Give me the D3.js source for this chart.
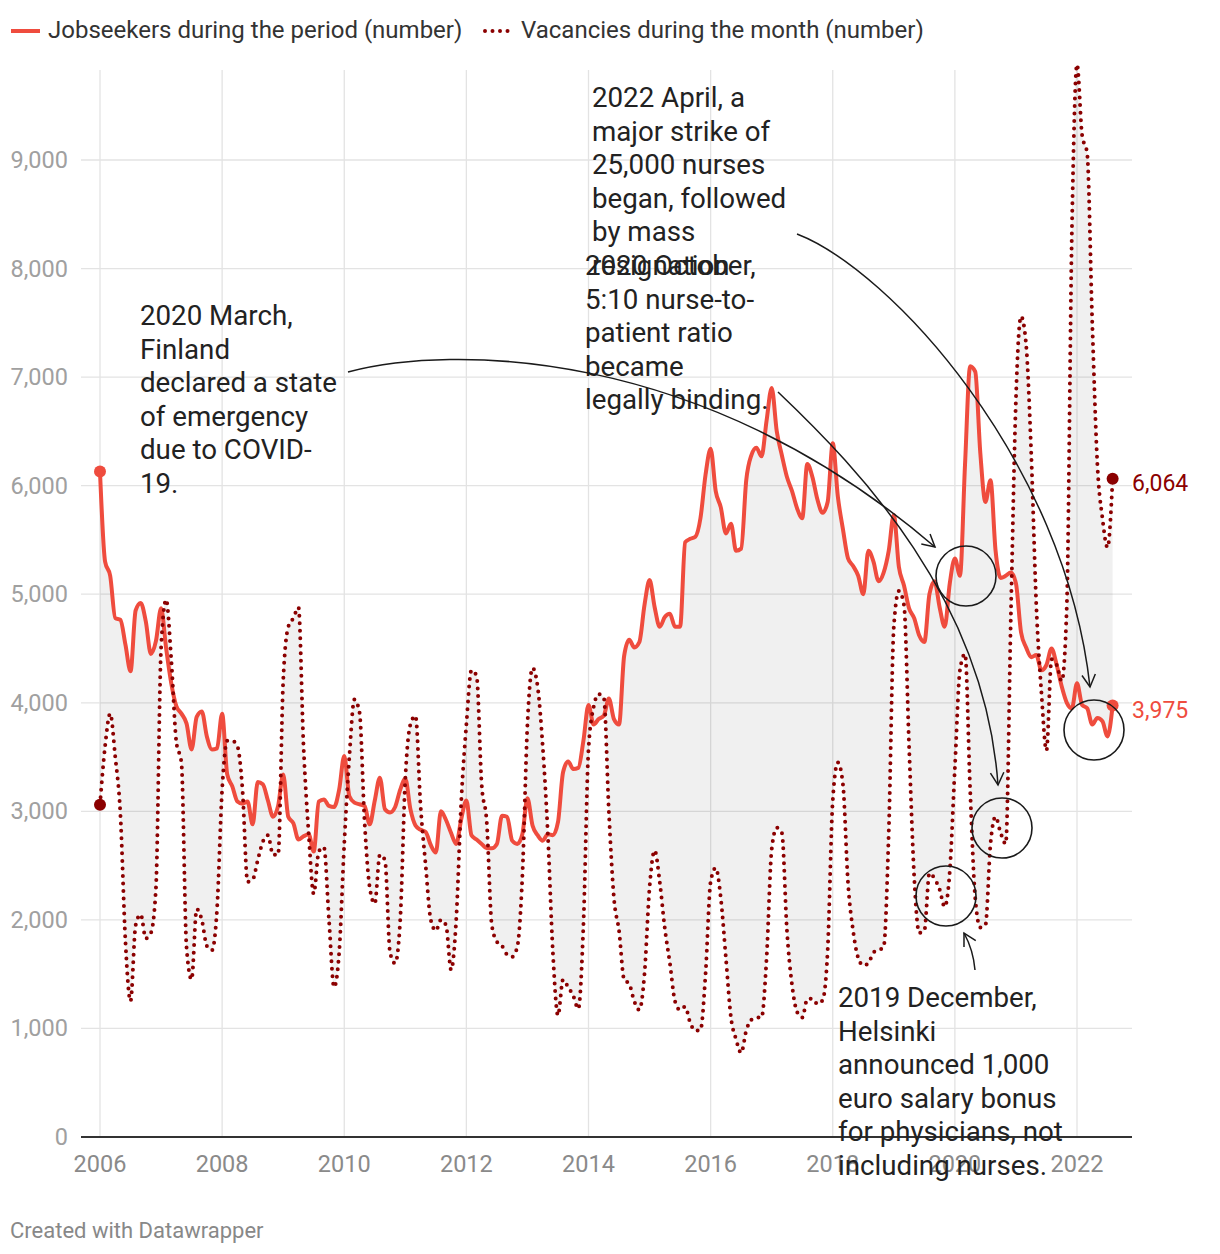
<!DOCTYPE html>
<html>
<head>
<meta charset="utf-8">
<script src="https://cdn.jsdelivr.net/npm/d3@7/dist/d3.min.js"></script>
<style>
  html, body { margin: 0; padding: 0; background: #fff; }
  svg { display: block; font-family: Roboto, "Noto Sans", sans-serif; }
</style>
</head>
<body>
<svg id="chart" width="1220" height="1254"></svg>
<script>
// ---------- DATA (monthly, Jan 2006 -> Aug 2022) ----------
const startYear = 2006;
const seriesNames = ["Jobseekers during the period (number)", "Vacancies during the month (number)"];
const jobseekers = [
  6130,5300,5170,4780,4765,4535,4290,4850,4920,4750,4450,4570,
  4870,4500,4180,3970,3900,3810,3570,3870,3920,3690,3570,3580,
  3900,3340,3230,3090,3070,3090,2880,3270,3250,3100,2950,3050,
  3340,2950,2890,2740,2770,2790,2630,3090,3110,3050,3040,3200,
  3510,3140,3080,3065,3050,2880,3100,3310,3020,2990,3040,3200,
  3300,3020,2870,2830,2810,2690,2620,3000,2920,2800,2700,2930,
  3100,2780,2740,2700,2660,2660,2700,2960,2950,2730,2700,2790,
  3120,2870,2780,2730,2790,2780,2900,3360,3460,3390,3400,3650,
  3980,3800,3850,3880,4040,3850,3800,4430,4580,4510,4560,4900,
  5130,4880,4700,4790,4820,4700,4700,5480,5510,5530,5700,6100,
  6340,5950,5800,5560,5650,5400,5420,6050,6280,6350,6270,6600,
  6900,6500,6280,6080,5950,5790,5700,6200,6080,5870,5750,5850,
  6390,5900,5600,5330,5260,5170,5000,5400,5300,5120,5200,5400,
  5730,5250,5080,4870,4780,4620,4560,5000,5120,4880,4700,5100,
  5330,5170,6200,7100,7050,6300,5850,6050,5400,5150,5170,5200,
  5100,4650,4510,4420,4440,4300,4350,4500,4350,4150,4000,3950,
  4180,3980,3950,3800,3860,3830,3690,3975
];
const vacancies = [
  3060,3600,3900,3500,2980,1800,1250,1950,2050,1830,1880,2300,
  4500,4950,4400,3640,3450,1750,1450,2100,2000,1760,1720,2100,
  3200,3650,3650,3600,3200,2350,2370,2550,2720,2780,2600,2600,
  4200,4700,4780,4880,3600,2800,2240,2630,2670,2000,1380,1700,
  2700,3500,4030,3910,2900,2300,2150,2600,2550,1700,1600,2000,
  3300,3800,3880,3050,2500,2000,1900,2000,1950,1540,2000,3100,
  3800,4300,4250,3250,2900,1950,1800,1760,1680,1660,1750,2400,
  3800,4320,4150,3600,2800,1700,1120,1450,1380,1300,1180,1950,
  3570,3960,4080,4050,3000,2200,1900,1450,1410,1250,1170,1500,
  2300,2640,2350,1920,1600,1250,1170,1200,1050,980,985,1500,
  2350,2480,2200,1650,1100,900,775,980,1080,1100,1100,1650,
  2650,2850,2800,1900,1400,1150,1100,1270,1275,1225,1260,1720,
  3100,3450,3250,2340,1900,1650,1580,1600,1700,1720,1750,2800,
  4700,5030,4900,3600,2400,1880,1900,2430,2380,2280,2120,2450,
  3400,4300,4450,3200,2200,1930,1950,2700,2950,2800,2700,4800,
  6800,7560,7300,6300,4900,4100,3560,4400,4350,4200,4900,8360,
  9880,9230,9060,7500,6200,5700,5430,6064
];
const yTicks = [0,1000,2000,3000,4000,5000,6000,7000,8000,9000];
const xTicks = [2006,2008,2010,2012,2014,2016,2018,2020,2022];
const endLabels = ["6,064", "3,975"];
const annotationTexts = [
  ["2020 March,", "Finland", "declared a state", "of emergency", "due to COVID-", "19."],
  ["2020 October,", "5:10 nurse-to-", "patient ratio", "became", "legally binding."],
  ["2022 April, a", "major strike of", "25,000 nurses", "began, followed", "by mass", "resignation"],
  ["2019 December,", "Helsinki", "announced 1,000", "euro salary bonus", "for physicians, not", "including nurses."]
];
const footer = "Created with Datawrapper";

// ---------- SETUP ----------
const RED = "#ef4c3e", DARK = "#8b0000", TEXT = "#222";
const svg = d3.select("#chart");
const x = d3.scaleLinear().domain([2006, 2022]).range([100, 1077]);
const y = d3.scaleLinear().domain([0, 9000]).range([1137, 160]);
const t = i => startYear + i / 12;
const rows = jobseekers.map((j, i) => ({ t: t(i), j, v: vacancies[i] }));

// gridlines
const grid = svg.append("g");
grid.selectAll("line.h").data(yTicks.filter(d => d > 0)).join("line")
  .attr("x1", 81).attr("x2", 1132).attr("y1", d => y(d)).attr("y2", d => y(d))
  .attr("stroke", "#e3e3e3").attr("stroke-width", 1.3);
grid.selectAll("line.v").data(xTicks).join("line")
  .attr("x1", d => x(d)).attr("x2", d => x(d)).attr("y1", 70).attr("y2", 1137)
  .attr("stroke", "#e3e3e3").attr("stroke-width", 1.3);

// y axis labels
svg.append("g").selectAll("text").data(yTicks).join("text")
  .attr("x", 68).attr("y", d => y(d) + 8).attr("text-anchor", "end")
  .attr("font-size", 23.5).attr("fill", "#a0a0a0")
  .text(d => d3.format(",")(d));

// x axis labels
svg.append("g").selectAll("text").data(xTicks).join("text")
  .attr("x", d => x(d)).attr("y", 1172).attr("text-anchor", "middle")
  .attr("font-size", 23.5).attr("fill", "#8a8a8a")
  .text(d => d);

// area between the lines
svg.append("path").datum(rows)
  .attr("d", d3.area().curve(d3.curveMonotoneX).x(d => x(d.t)).y0(d => y(d.v)).y1(d => y(d.j)))
  .attr("fill", "rgba(0,0,0,0.06)");

// baseline
svg.append("line").attr("x1", 81).attr("x2", 1132).attr("y1", y(0)).attr("y2", y(0))
  .attr("stroke", "#333").attr("stroke-width", 2);

// jobseekers line
svg.append("path").datum(rows)
  .attr("d", d3.line().curve(d3.curveMonotoneX).x(d => x(d.t)).y(d => y(d.j)))
  .attr("fill", "none").attr("stroke", RED).attr("stroke-width", 4)
  .attr("stroke-linejoin", "round").attr("stroke-linecap", "round");

// vacancies dotted line
svg.append("path").datum(rows)
  .attr("d", d3.line().curve(d3.curveMonotoneX).x(d => x(d.t)).y(d => y(d.v)))
  .attr("fill", "none").attr("stroke", DARK).attr("stroke-width", 4)
  .attr("stroke-dasharray", "0 7.5").attr("stroke-linecap", "round");

// start / end dots
const first = rows[0], last = rows[rows.length - 1];
svg.append("g").selectAll("circle").data([
  { cx: x(first.t), cy: y(first.j), c: RED }, { cx: x(first.t), cy: y(first.v), c: DARK },
  { cx: x(last.t), cy: y(last.j), c: RED }, { cx: x(last.t), cy: y(last.v), c: DARK }
]).join("circle").attr("cx", d => d.cx).attr("cy", d => d.cy).attr("r", 6).attr("fill", d => d.c);

// end labels
svg.append("text").attr("x", 1132).attr("y", y(last.v) + 12).attr("font-size", 23)
  .attr("fill", DARK).text(endLabels[0]);
svg.append("text").attr("x", 1132).attr("y", y(last.j) + 13).attr("font-size", 23)
  .attr("fill", RED).text(endLabels[1]);

// legend
const lg = svg.append("g");
lg.append("line").attr("x1", 11).attr("x2", 40).attr("y1", 31).attr("y2", 31)
  .attr("stroke", RED).attr("stroke-width", 4);
lg.append("text").attr("x", 48).attr("y", 38).attr("font-size", 24).attr("fill", "#333").text(seriesNames[0]);
lg.append("line").attr("x1", 485).attr("x2", 513).attr("y1", 31).attr("y2", 31)
  .attr("stroke", DARK).attr("stroke-width", 4).attr("stroke-dasharray", "0 7.5").attr("stroke-linecap", "round");
lg.append("text").attr("x", 521).attr("y", 38).attr("font-size", 24).attr("fill", "#333").text(seriesNames[1]);

// annotations: text blocks
const annPos = [[140, 325], [585, 275], [592, 107], [838, 1007]];
annotationTexts.forEach((lines, k) => {
  const g = svg.append("text").attr("font-size", 27.7).attr("fill", TEXT);
  lines.forEach((ln, i) => {
    g.append("tspan").attr("x", annPos[k][0]).attr("y", annPos[k][1] + i * 33.5).text(ln);
  });
});

// annotation arrows (cubic curves with open arrowheads)
const arrows = [
  [[348, 372], [450, 345], [700, 345], [935, 547]],
  [[778, 392], [860, 470], [985, 600], [998, 785]],
  [[797, 234], [890, 270], [1065, 460], [1090, 687]],
  [[975, 970], [974, 958], [970, 944], [964, 933]]
];
const ag = svg.append("g").attr("fill", "none").attr("stroke", "#1a1a1a").attr("stroke-width", 1.5);
arrows.forEach(([p0, p1, p2, p3]) => {
  const p = d3.path();
  p.moveTo(p0[0], p0[1]);
  p.bezierCurveTo(p1[0], p1[1], p2[0], p2[1], p3[0], p3[1]);
  ag.append("path").attr("d", p.toString());
  const ang = Math.atan2(p3[1] - p2[1], p3[0] - p2[0]);
  const L = 14, a = 0.5;
  const h = d3.path();
  h.moveTo(p3[0] - L * Math.cos(ang - a), p3[1] - L * Math.sin(ang - a));
  h.lineTo(p3[0], p3[1]);
  h.lineTo(p3[0] - L * Math.cos(ang + a), p3[1] - L * Math.sin(ang + a));
  ag.append("path").attr("d", h.toString());
});

// annotation circles
const circles = [[966, 576], [1002, 828], [946, 896], [1094, 730]];
ag.selectAll("circle").data(circles).join("circle")
  .attr("cx", d => d[0]).attr("cy", d => d[1]).attr("r", 30).attr("stroke-width", 1.6);

// footer
svg.append("text").attr("x", 10).attr("y", 1238).attr("font-size", 22).attr("fill", "#888").text(footer);
</script>
</body>
</html>
